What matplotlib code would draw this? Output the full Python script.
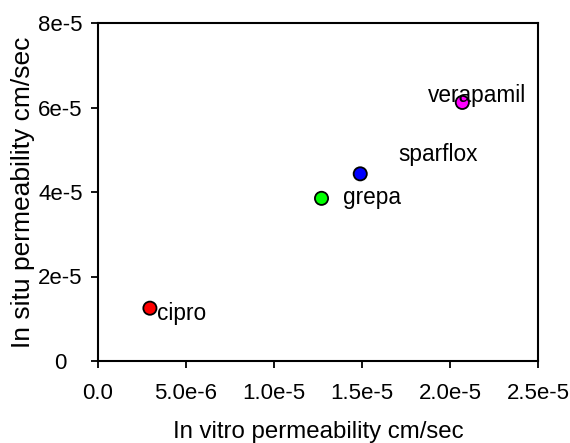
import matplotlib
matplotlib.use("Agg")
import matplotlib.pyplot as plt

plt.rcParams['font.family'] = ['Liberation Sans', 'DejaVu Sans']

names = ["cipro", "grepa", "sparflox", "verapamil"]
in_vitro = [2.95e-6, 1.27e-5, 1.49e-5, 2.07e-5]
in_situ = [1.25e-5, 3.85e-5, 4.43e-5, 6.12e-5]
colors = ["#ff0000", "#00ff00", "#0000ff", "#ff00ff"]
label_offsets = [(7, -5), (21, 1), (38, 19), (-34, 7)]

xticks = [0, 5e-6, 1e-5, 1.5e-5, 2e-5, 2.5e-5]
xticklabels = ["0.0", "5.0e-6", "1.0e-5", "1.5e-5", "2.0e-5", "2.5e-5"]
yticks = [0, 2e-5, 4e-5, 6e-5, 8e-5]
yticklabels = ["0", "2e-5", "4e-5", "6e-5", "8e-5"]

fig = plt.figure(figsize=(5.7, 4.43), dpi=100)
ax = fig.add_axes([98/570, 1-361/443, 440/570, 338/443])

ax.scatter(in_vitro, in_situ, s=90, c=colors, edgecolors="black", linewidths=1.3, zorder=3)
for n, x, y, off in zip(names, in_vitro, in_situ, label_offsets):
    ax.annotate(n, (x, y), xytext=off, textcoords="offset pixels",
                fontsize=16.3, ha="left", va="center", zorder=4)

ax.set_xlim(0, 2.5e-5)
ax.set_ylim(0, 8e-5)
ax.set_xticks(xticks)
ax.set_xticklabels(xticklabels)
ax.set_yticks(yticks)
ax.set_yticklabels(yticklabels, ha="center")
ax.tick_params(direction="out", length=5, width=1.3)
ax.tick_params(axis="x", pad=11, labelsize=16)
ax.tick_params(axis="y", pad=22, labelsize=16)
for s in ax.spines.values():
    s.set_linewidth(1.5)

ax.set_xlabel("In vitro permeability cm/sec", fontsize=17.3, labelpad=12)
ax.set_ylabel("In situ permeability cm/sec", fontsize=19, labelpad=2)

fig.savefig("out.png", dpi=100)
